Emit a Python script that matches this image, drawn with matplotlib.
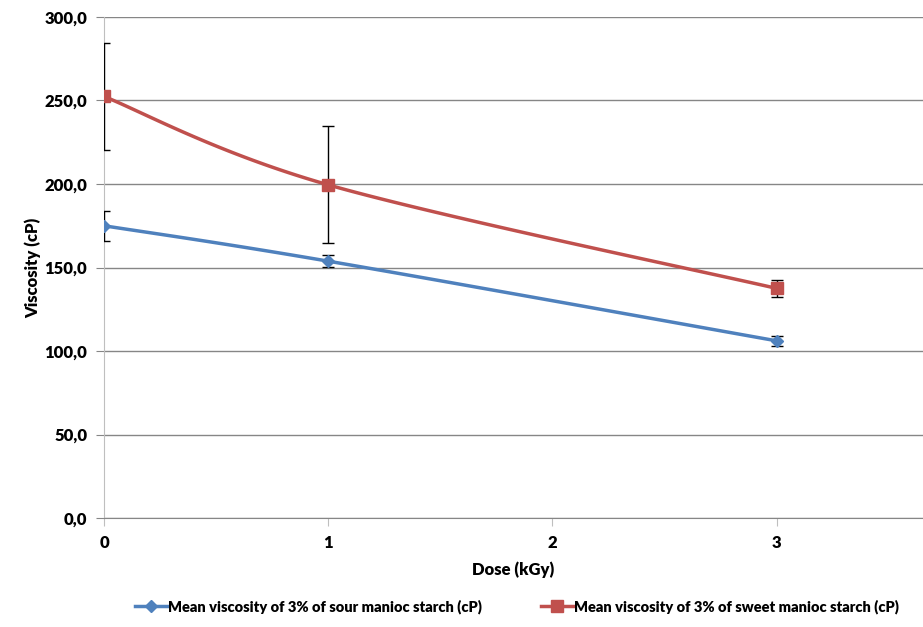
import numpy as np
import matplotlib.pyplot as plt
from matplotlib.ticker import FuncFormatter

dose = [0, 1, 3]
sour_mean = [175.0, 153.8, 106.1]
sour_err = [9.0, 3.5, 3.1]
sweet_mean = [252.4, 199.5, 137.5]
sweet_err = [32.2, 35.0, 5.3]

BLUE = "#4F81BD"
RED = "#C0504D"
W = "heavy"

plt.rcParams["font.family"] = ["Lato", "DejaVu Sans"]
plt.rcParams["font.weight"] = W


def smooth(xs, ys, n=60):
    # Excel-style smoothed line: cubic Bezier with Catmull-Rom control points
    xs = np.asarray(xs, float)
    ys = np.asarray(ys, float)
    px = np.concatenate([[xs[0]], xs, [xs[-1]]])
    py = np.concatenate([[ys[0]], ys, [ys[-1]]])
    out_x, out_y = [], []
    t = np.linspace(0, 1, n)
    for i in range(1, len(px) - 2):
        p0 = np.array([px[i], py[i]])
        p3 = np.array([px[i + 1], py[i + 1]])
        c1 = p0 + (np.array([px[i + 1], py[i + 1]]) - np.array([px[i - 1], py[i - 1]])) / 6
        c2 = p3 - (np.array([px[i + 2], py[i + 2]]) - np.array([px[i], py[i]])) / 6
        b = ((1 - t) ** 3)[:, None] * p0 + (3 * (1 - t) ** 2 * t)[:, None] * c1 \
            + (3 * (1 - t) * t ** 2)[:, None] * c2 + (t ** 3)[:, None] * p3
        out_x.extend(b[:, 0])
        out_y.extend(b[:, 1])
    return out_x, out_y


fig = plt.figure(figsize=(9.23, 6.27), dpi=100)
ax = fig.add_axes([0.1127, 0.1738, 0.8873, 0.7991])

ax.set_xlim(0, 3.653)
ax.set_ylim(0, 300)
ax.set_yticks(np.arange(0, 301, 50))
ax.set_xticks([0, 1, 2, 3])
ax.yaxis.set_major_formatter(FuncFormatter(lambda v, p: f"{v:.1f}".replace(".", ",")))
ax.grid(True, axis="y", color="#868686", linewidth=1)
ax.set_axisbelow(True)

for s in ["top", "right"]:
    ax.spines[s].set_visible(False)
ax.spines["left"].set_color("#BFBFBF")
ax.spines["bottom"].set_color("#868686")
ax.tick_params(axis="y", length=6, color="#868686", labelsize=12, pad=6)
ax.tick_params(axis="x", length=6, color="#BFBFBF", labelsize=12, pad=6)

for mean, err, color, marker, ms, label in [
    (sour_mean, sour_err, BLUE, "D", 6, "Mean viscosity of 3% of sour manioc starch (cP)"),
    (sweet_mean, sweet_err, RED, "s", 8, "Mean viscosity of 3% of sweet manioc starch (cP)"),
]:
    ax.errorbar(dose, mean, yerr=err, fmt="none", ecolor="black", elinewidth=1,
                capsize=4, capthick=1, zorder=3)
    sx, sy = smooth(dose, mean)
    ax.plot(sx, sy, color=color, linewidth=2.5, zorder=4)
    ax.plot(dose, mean, linestyle="none", marker=marker, markersize=ms,
            color=color, zorder=5)
    ax.plot([], [], color=color, linewidth=2.5, marker=marker, markersize=ms, label=label)

ax.set_xlabel("Dose (kGy)", fontsize=12, fontweight=W, labelpad=8)
ax.set_ylabel("Viscosity (cP)", fontsize=12, fontweight=W, labelpad=2)

fig.legend(loc="lower center", bbox_to_anchor=(0.56, 0.0), ncol=2, frameon=False,
           handlelength=2.2, handletextpad=0.1, columnspacing=4,
           prop={"weight": W, "size": 10.5})

fig.savefig("out.png", dpi=100)
